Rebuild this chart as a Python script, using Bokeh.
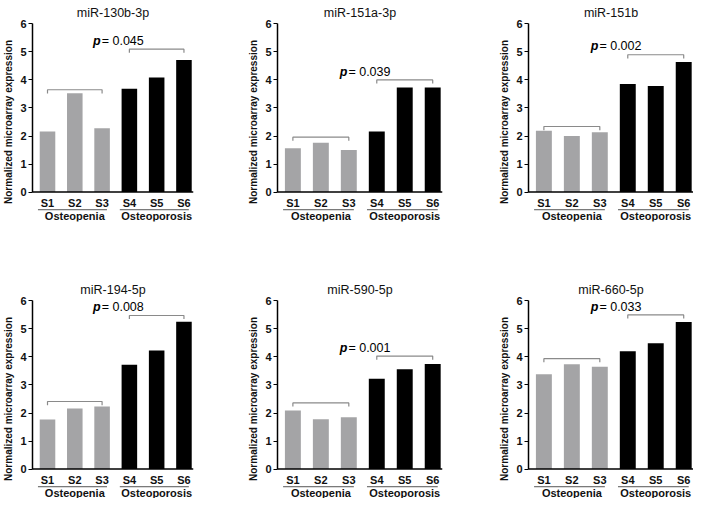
from bokeh.plotting import figure
from bokeh.layouts import column, row
from bokeh.models import Range1d, FixedTicker, Span
from bokeh.core.properties import value
from bokeh.embed import file_html
from bokeh.resources import INLINE

# ---- data ----
titles = ["miR-130b-3p", "miR-151a-3p", "miR-151b", "miR-194-5p", "miR-590-5p", "miR-660-5p"]
samples = ["S1", "S2", "S3", "S4", "S5", "S6"]
groups = ["Osteopenia", "Osteoporosis"]
group_members = [[0, 1, 2], [3, 4, 5]]
mir_130b_3p = [2.16, 3.53, 2.28, 3.69, 4.09, 4.71]
mir_151a_3p = [1.56, 1.76, 1.50, 2.16, 3.73, 3.73]
mir_151b = [2.19, 2.00, 2.13, 3.86, 3.78, 4.64]
mir_194_5p = [1.77, 2.16, 2.23, 3.72, 4.23, 5.26]
mir_590_5p = [2.09, 1.78, 1.85, 3.22, 3.56, 3.75]
mir_660_5p = [3.38, 3.74, 3.65, 4.20, 4.49, 5.25]
series = [mir_130b_3p, mir_151a_3p, mir_151b, mir_194_5p, mir_590_5p, mir_660_5p]
p_values = ["0.045", "0.039", "0.002", "0.008", "0.001", "0.033"]
bracket_osteopenia = [3.65, 1.96, 2.34, 2.41, 2.36, 3.94]
bracket_osteoporosis = [5.10, 4.00, 4.90, 5.48, 4.03, 5.50]
y_ticks = [0, 1, 2, 3, 4, 5, 6]

FONT = "Liberation Sans"
GRAY = "#a4a4a6"
BRACKET = "#8a8a8a"

widths = [240, 240, 213]
lefts = [28, 37, 48]
rights = [47, 38, 0]
heights = [277, 221]
tops = [22, 22]
bottoms = [56, 0]


def make_panel(i):
    c = i % 3
    r = i // 3
    vals = series[i]
    xs = list(range(len(samples)))
    p = figure(width=widths[c], height=heights[r], output_backend="svg",
               toolbar_location=None, x_range=Range1d(-0.55, 5.35),
               y_range=Range1d(-1.05, 6.05), x_axis_location=None,
               min_border_left=lefts[c], min_border_right=rights[c],
               min_border_top=tops[r], min_border_bottom=bottoms[r])
    p.outline_line_color = None
    p.grid.visible = False
    p.title.text = titles[i]
    p.title.align = "center"
    p.title.text_font = FONT
    p.title.text_font_size = "12.5px"
    p.title.text_font_style = "normal"
    p.title.text_color = "#111111"
    p.title.standoff = 6

    ax = p.yaxis[0]
    ax.ticker = FixedTicker(ticks=y_ticks)
    ax.bounds = (0, 6)
    ax.axis_line_width = 1.5
    ax.axis_line_color = "black"
    ax.major_tick_in = 0
    ax.major_tick_out = 4
    ax.minor_tick_line_color = None
    ax.major_tick_line_width = 1.2
    ax.major_label_text_font = FONT
    ax.major_label_text_font_size = "11px"
    ax.major_label_text_font_style = "bold"
    ax.major_label_text_color = "#111111"
    ax.major_label_standoff = 2
    ax.axis_label = "Normalized microarray expression"
    ax.axis_label_text_font = FONT
    ax.axis_label_text_font_size = "10px"
    ax.axis_label_text_font_style = "bold"
    ax.axis_label_text_color = "#111111"
    ax.axis_label_standoff = 3

    colors = [GRAY, GRAY, GRAY, "black", "black", "black"]
    p.vbar(x=xs, top=vals, width=0.57, color=colors, line_color=None)

    p.add_layout(Span(location=0, dimension="width", line_color="black", line_width=1.5))

    # brackets
    for g, b in zip(group_members, [bracket_osteopenia[i], bracket_osteoporosis[i]]):
        x0, x1 = g[0], g[-1]
        p.line(x=[x0, x0, x1, x1], y=[b - 0.13, b, b, b - 0.13],
               line_color=BRACKET, line_width=1.2)

    # p value
    yb = bracket_osteoporosis[i] + 0.3
    p.text(x=[1.95], y=[yb], text=["p"], text_align="right", text_baseline="middle",
           text_font=value(FONT), text_font_size="12.5px", text_font_style="bold italic",
           text_color="black")
    p.text(x=[1.95], y=[yb], text=["= " + p_values[i]], text_align="left",
           text_baseline="middle", x_offset=1, text_font=value(FONT),
           text_font_size="12.5px", text_font_style="normal", text_color="black")

    # sample labels
    p.text(x=xs, y=[-0.39] * len(xs), text=samples, text_align="center",
           text_baseline="middle", text_font=value(FONT), text_font_size="11px",
           text_font_style="bold", text_color="#111111")
    # group underline and labels
    for g, name in zip(group_members, groups):
        p.segment(x0=[g[0] - 0.35], x1=[g[-1] + 0.18], y0=[-0.63], y1=[-0.63],
                  line_color="#555555", line_width=1)
        p.text(x=[sum(g) / len(g)], y=[-0.85], text=[name], text_align="center",
               text_baseline="middle", text_font=value(FONT), text_font_size="11px",
               text_font_style="bold", text_color="#111111")
    return p


figs = [make_panel(i) for i in range(6)]
layout = column(row(*figs[:3]), row(*figs[3:]))

open("out.html", "w").write(file_html(layout, INLINE))
